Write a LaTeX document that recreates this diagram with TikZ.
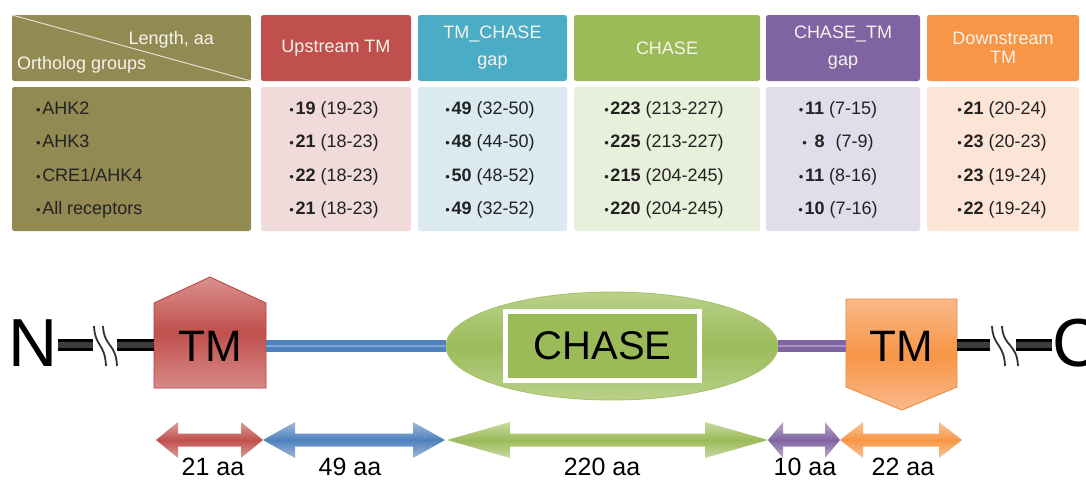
\documentclass[tikz,border=0pt]{standalone}
\usepackage{fontspec}
\setmainfont{Liberation Sans}
\usetikzlibrary{shapes.geometric,shadows}
\definecolor{olive}{HTML}{938953}
\definecolor{hdrtxt}{HTML}{F4F4EC}
\definecolor{bodytxt}{HTML}{222222}
\definecolor{redH}{HTML}{C0504D}
\definecolor{redB}{HTML}{F0DADA}
\definecolor{tealH}{HTML}{4BACC6}
\definecolor{tealB}{HTML}{DAEAF0}
\definecolor{grnH}{HTML}{9BBB59}
\definecolor{grnB}{HTML}{E8EFDA}
\definecolor{purH}{HTML}{8064A2}
\definecolor{purB}{HTML}{E2DDEA}
\definecolor{orgH}{HTML}{F79646}
\definecolor{orgB}{HTML}{FCE4D6}
\definecolor{redL}{HTML}{D9908D}
\definecolor{redD}{HTML}{B8403D}
\definecolor{orgL}{HTML}{F9B98A}
\definecolor{orgD}{HTML}{E9873A}
\definecolor{grnL}{HTML}{B9D18A}
\definecolor{grnE}{HTML}{A2C264}
\definecolor{bluM}{HTML}{4F81BD}
\definecolor{bluL}{HTML}{7FA4D6}
\definecolor{purL}{HTML}{A792C2}
\definecolor{barin}{HTML}{3C3C3C}
\newcommand\bul{{\fontsize{13}{13}\selectfont •}\hspace{1.5pt}}
\newcommand\blockarrow[4]{%
  \shade[top color=#4!55!white, bottom color=#4!55!white, middle color=#4]
    (#1,440) -- ({#1+#3},422) -- ({#1+#3},433.5) -- ({#2-#3},433.5) -- ({#2-#3},422)
    -- (#2,440) -- ({#2-#3},458) -- ({#2-#3},446.5) -- ({#1+#3},446.5) -- ({#1+#3},458) -- cycle;}
\begin{document}
\begin{tikzpicture}[x=1pt,y=-1pt,
  hdr/.style={rounded corners=2.5pt, minimum height=66pt, inner sep=0pt, text=hdrtxt,
    font=\fontsize{18}{27}\selectfont, align=center},
  bodycell/.style={rounded corners=2.5pt, minimum height=144pt, inner sep=0pt},
  celltxt/.style={anchor=base, inner sep=0pt, text=bodytxt, font=\fontsize{18}{22}\selectfont},
  lefttxt/.style={celltxt, anchor=base west},
  tmtxt/.style={inner sep=0pt, font=\fontsize{44}{44}\selectfont, text=black},
  endtxt/.style={inner sep=0pt, font=\fontsize{68}{68}\selectfont, text=black},
  lbl/.style={anchor=base, inner sep=0pt, font=\fontsize{25}{25}\selectfont, text=black},
  blackbar/.style={draw=black, line width=3pt, double=barin, double distance=6pt},
  wave/.style={draw=black!80, line width=1.8pt},
  blueline/.style={draw=bluM, line width=4.5pt, double=bluL, double distance=2.5pt},
  purline/.style={draw=purH, line width=4.5pt, double=purL, double distance=2.5pt}
]
\useasboundingbox (0,0) rectangle (1086,480);
\clip (0,0) rectangle (1086,480);
\fill[white] (0,0) rectangle (1086,480);

% ---- table headers
\node[hdr, fill=olive, minimum width=239pt] (h1) at (131.5,48) {};
\draw[hdrtxt!80!olive, line width=1pt] (12,15) -- (251,81);
\node[anchor=base east, inner sep=0pt, text=hdrtxt, font=\fontsize{18}{22}\selectfont] (h1a) at (214,44.5) {Length, aa};
\node[anchor=base west, inner sep=0pt, text=hdrtxt, font=\fontsize{18}{22}\selectfont] (h1b) at (17,69.5) {Ortholog groups};
\node[hdr, fill=redH, minimum width=150pt] (h2) at (336,48) {Upstream TM};
\node[hdr, fill=tealH, minimum width=149pt] (h3) at (492.5,48) {TM\_CHASE\\gap};
\node[hdr, fill=grnH, minimum width=186pt] (h4) at (667,48) {CHASE};
\node[hdr, fill=purH, minimum width=154pt] (h5) at (843,48) {CHASE\_TM\\gap};
\node[hdr, fill=orgH, minimum width=152pt, font=\fontsize{18}{18.5}\selectfont] (h6) at (1003,48) {Downstream\\TM};

% ---- table bodies
\node[bodycell, fill=olive, minimum width=239pt] (b1) at (131.5,159) {};
\node[bodycell, fill=redB, minimum width=150pt] (b2) at (336,159) {};
\node[bodycell, fill=tealB, minimum width=149pt] (b3) at (492.5,159) {};
\node[bodycell, fill=grnB, minimum width=186pt] (b4) at (667,159) {};
\node[bodycell, fill=purB, minimum width=154pt] (b5) at (843,159) {};
\node[bodycell, fill=orgB, minimum width=152pt] (b6) at (1003,159) {};

\node[lefttxt] (c1r1) at (36,114) {\bul AHK2};
\node[lefttxt] (c1r2) at (36,147.5) {\bul AHK3};
\node[lefttxt] (c1r3) at (36,181) {\bul CRE1/AHK4};
\node[lefttxt] (c1r4) at (36,214) {\bul All receptors};

\node[celltxt] (c2r1) at (334,114) {\bul\textbf{19} (19-23)};
\node[celltxt] (c2r2) at (334,147.5) {\bul\textbf{21} (18-23)};
\node[celltxt] (c2r3) at (334,181) {\bul\textbf{22} (18-23)};
\node[celltxt] (c2r4) at (334,214) {\bul\textbf{21} (18-23)};

\node[celltxt] (c3r1) at (490,114) {\bul\textbf{49} (32-50)};
\node[celltxt] (c3r2) at (490,147.5) {\bul\textbf{48} (44-50)};
\node[celltxt] (c3r3) at (490,181) {\bul\textbf{50} (48-52)};
\node[celltxt] (c3r4) at (490,214) {\bul\textbf{49} (32-52)};

\node[celltxt] (c4r1) at (664,114) {\bul\textbf{223} (213-227)};
\node[celltxt] (c4r2) at (664,147.5) {\bul\textbf{225} (213-227)};
\node[celltxt] (c4r3) at (664,181) {\bul\textbf{215} (204-245)};
\node[celltxt] (c4r4) at (664,214) {\bul\textbf{220} (204-245)};

\node[celltxt] (c5r1) at (838,114) {\bul\textbf{11} (7-15)};
\node[celltxt] (c5r2) at (838,147.5) {\bul\hspace{6pt}\textbf{8}\hspace{11pt}(7-9)};
\node[celltxt] (c5r3) at (838,181) {\bul\textbf{11} (8-16)};
\node[celltxt] (c5r4) at (838,214) {\bul\textbf{10} (7-16)};

\node[celltxt] (c6r1) at (1002,114) {\bul\textbf{21} (20-24)};
\node[celltxt] (c6r2) at (1002,147.5) {\bul\textbf{23} (20-23)};
\node[celltxt] (c6r3) at (1002,181) {\bul\textbf{23} (19-24)};
\node[celltxt] (c6r4) at (1002,214) {\bul\textbf{22} (19-24)};

% ---- domain diagram
\shade[top color=redL, bottom color=redL!90!redH, middle color=redH, draw=redD, line width=0.8pt]
  (154,303) -- (210,277) -- (266,303) -- (266,388) -- (154,388) -- cycle;
\node[tmtxt, minimum width=112pt] (tm1) at (210,346) {TM};

\shade[top color=orgL, bottom color=orgL, middle color=orgH, draw=orgD, line width=0.8pt]
  (846,299) -- (957,299) -- (957,387) -- (902,410) -- (846,387) -- cycle;
\node[tmtxt, minimum width=111pt] (tm2) at (901.5,346) {TM};

\node[ellipse, minimum width=332pt, minimum height=108pt, inner sep=0pt,
  top color=grnL, bottom color=grnL, middle color=grnH, draw=grnE, line width=0.8pt] (chase) at (612,346) {};
\node[minimum width=194pt, minimum height=69pt, inner sep=0pt, fill=grnH, draw=white, line width=5pt,
  drop shadow={shadow xshift=2pt, shadow yshift=-2pt, opacity=0.3},
  font=\fontsize{40}{40}\selectfont, text=black] (chasebox) at (602.5,346) {CHASE};

\draw[blueline] (tm1.east) -- (chase.west);
\draw[purline] (chase.east) -- (tm2.west);

\node[endtxt] (N) at (33,343) {N};
\node[endtxt] (C) at (1077,343) {C};

\coordinate (nb1) at (93,345);
\coordinate (nb2) at (117,345);
\coordinate (cb1) at (990,345);
\coordinate (cb2) at (1016,345);
\coordinate (nstart) at (N.east |- nb1);
\coordinate (cend) at (C.west |- cb1);
\coordinate (tm1w) at (tm1.west |- nb1);
\coordinate (tm2e) at (tm2.east |- cb1);

\draw[blackbar] (nstart) -- (nb1);
\draw[blackbar] (nb2) -- (tm1w);
\draw[blackbar] (tm2e) -- (cb1);
\draw[blackbar] (cb2) -- (cend);

\draw[wave] (94,326) .. controls (95,347) and (105,343) .. (106,366);
\draw[wave] (103,326) .. controls (104,347) and (116,343) .. (117,366);
\draw[wave] (992,326) .. controls (993,347) and (1004,343) .. (1005,366);
\draw[wave] (1002,326) .. controls (1003,347) and (1017,343) .. (1018,366);

% ---- length arrows
\blockarrow{156}{263}{22}{redH}
\blockarrow{263}{445}{32}{bluM}
\blockarrow{447}{768}{63}{grnH}
\blockarrow{768}{840}{15}{purH}
\blockarrow{840}{962}{23}{orgH}

\node[lbl] (l1) at (213,475) {21 aa};
\node[lbl] (l2) at (350,475) {49 aa};
\node[lbl] (l3) at (602,475) {220 aa};
\node[lbl] (l4) at (805,475) {10 aa};
\node[lbl] (l5) at (903,475) {22 aa};
\end{tikzpicture}
\end{document}
